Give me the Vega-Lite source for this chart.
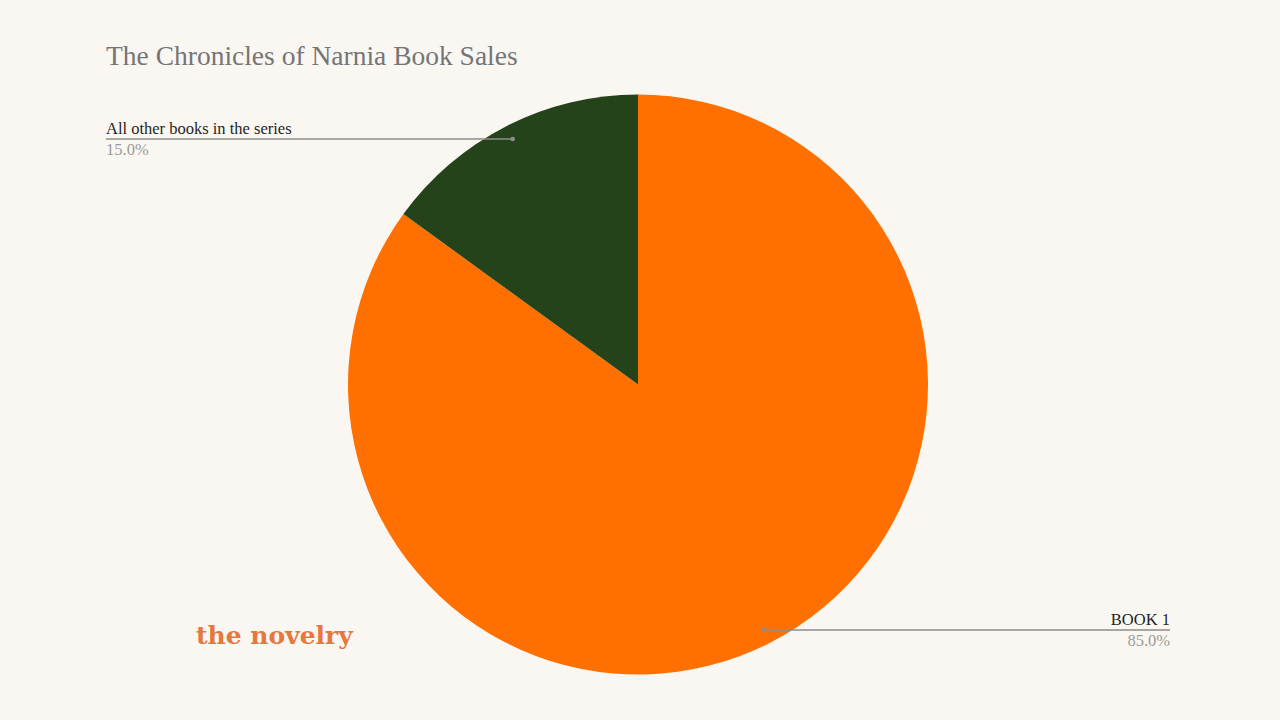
{
  "$schema": "https://vega.github.io/schema/vega-lite/v6.json",
  "width": 1280,
  "height": 720,
  "autosize": {"type": "fit", "contains": "padding"},
  "padding": {"top": 43, "left": 0, "right": 0, "bottom": 0},
  "background": "#FAF7F2",
  "config": {"view": {"stroke": null}},
  "title": {
    "text": "The Chronicles of Narnia Book Sales",
    "anchor": "start",
    "dx": 106,
    "font": "Liberation Serif",
    "fontSize": 27.5,
    "fontWeight": "normal",
    "color": "#757575",
    "offset": 6.5
  },
  "data": {
    "values": [
      {"label": "BOOK 1", "share": 85},
      {"label": "All other books in the series", "share": 15}
    ]
  },
  "transform": [
    {"stack": "share", "groupby": [], "sort": [{"field": "share", "order": "descending"}], "as": ["s0", "s1"]},
    {"calculate": "PI * (datum.s0 + datum.s1) / 100", "as": "mid"},
    {"calculate": "276 * sin(datum.mid)", "as": "dotX"},
    {"calculate": "276 * cos(datum.mid)", "as": "dotY"},
    {"calculate": "datum.dotX < 0 ? -532 : 532", "as": "edgeX"},
    {"calculate": "format(datum.share / 100, '.1%')", "as": "pct"}
  ],
  "layer": [
    {
      "mark": {"type": "arc", "outerRadius": 290},
      "encoding": {
        "x": {"datum": 0, "type": "quantitative", "scale": {"domain": [-638, 642], "nice": false, "zero": false}, "axis": null},
        "y": {"datum": 0, "type": "quantitative", "scale": {"domain": [-336, 308], "nice": false, "zero": false}, "axis": null},
        "theta": {"field": "s0", "type": "quantitative", "scale": {"domain": [0, 100]}},
        "theta2": {"field": "s1"},
        "color": {"field": "label", "type": "nominal", "scale": {"domain": ["BOOK 1", "All other books in the series"], "range": ["#FF7000", "#25431A"]}, "legend": null}
      }
    },
    {
      "mark": {"type": "rule", "color": "#8C8C8C", "strokeWidth": 1.5},
      "encoding": {
        "x": {"field": "edgeX", "type": "quantitative"},
        "x2": {"field": "dotX"},
        "y": {"field": "dotY", "type": "quantitative"}
      }
    },
    {
      "mark": {"type": "circle", "color": "#8C8C8C", "size": 22, "opacity": 1},
      "encoding": {
        "x": {"field": "dotX", "type": "quantitative"},
        "y": {"field": "dotY", "type": "quantitative"}
      }
    },
    {
      "transform": [{"filter": "datum.dotX < 0"}],
      "mark": {"type": "text", "align": "left", "baseline": "alphabetic", "dy": -5, "font": "Liberation Serif", "fontSize": 16.5, "color": "#1F1F1F"},
      "encoding": {
        "x": {"field": "edgeX", "type": "quantitative"},
        "y": {"field": "dotY", "type": "quantitative"},
        "text": {"field": "label"}
      }
    },
    {
      "transform": [{"filter": "datum.dotX < 0"}],
      "mark": {"type": "text", "align": "left", "baseline": "alphabetic", "dy": 16, "font": "Liberation Serif", "fontSize": 16.5, "color": "#9A9A9A"},
      "encoding": {
        "x": {"field": "edgeX", "type": "quantitative"},
        "y": {"field": "dotY", "type": "quantitative"},
        "text": {"field": "pct"}
      }
    },
    {
      "transform": [{"filter": "datum.dotX >= 0"}],
      "mark": {"type": "text", "align": "right", "baseline": "alphabetic", "dy": -5, "font": "Liberation Serif", "fontSize": 16.5, "color": "#1F1F1F"},
      "encoding": {
        "x": {"field": "edgeX", "type": "quantitative"},
        "y": {"field": "dotY", "type": "quantitative"},
        "text": {"field": "label"}
      }
    },
    {
      "transform": [{"filter": "datum.dotX >= 0"}],
      "mark": {"type": "text", "align": "right", "baseline": "alphabetic", "dy": 16, "font": "Liberation Serif", "fontSize": 16.5, "color": "#9A9A9A"},
      "encoding": {
        "x": {"field": "edgeX", "type": "quantitative"},
        "y": {"field": "dotY", "type": "quantitative"},
        "text": {"field": "pct"}
      }
    },
    {
      "data": {"values": [{"brand": "the novelry"}]},
      "mark": {"type": "text", "align": "left", "baseline": "alphabetic", "font": "DejaVu Serif", "fontWeight": "bold", "fontSize": 25, "color": "#E6783F"},
      "encoding": {
        "x": {"datum": -442, "type": "quantitative"},
        "y": {"datum": -260, "type": "quantitative"},
        "text": {"field": "brand"}
      }
    }
  ]
}
